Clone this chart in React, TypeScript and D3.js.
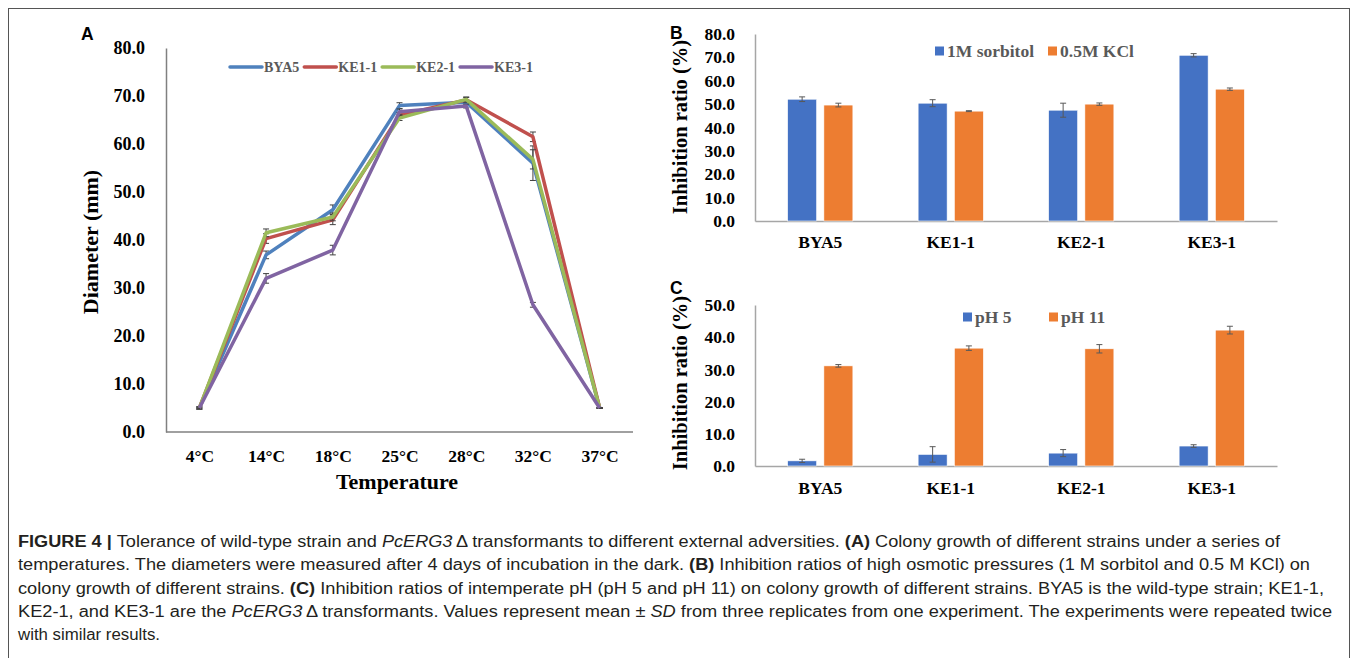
import React, { useEffect, useRef } from 'react';
import * as d3 from 'd3';

// Panel A: colony diameter (mm) by temperature
const temps = ['4°C', '14°C', '18°C', '25°C', '28°C', '32°C', '37°C'];
const strains = ['BYA5', 'KE1-1', 'KE2-1', 'KE3-1'];
const diamBYA5 = [5.0, 36.9, 46.3, 68.0, 68.7, 56.0, 5.0];
const diamKE11 = [5.0, 40.3, 44.2, 66.0, 69.2, 61.5, 5.0];
const diamKE21 = [5.0, 41.5, 44.8, 65.4, 69.3, 56.8, 5.0];
const diamKE31 = [5.0, 32.0, 37.9, 66.7, 67.9, 26.5, 5.0];
const sdBYA5 = [0.2, 0.8, 1.0, 0.6, 0.4, 3.6, 0.1];
const sdKE11 = [0.2, 1.0, 1.0, 0.5, 0.5, 1.0, 0.1];
const sdKE21 = [0.2, 0.8, 0.8, 0.5, 0.5, 2.0, 0.1];
const sdKE31 = [0.2, 1.0, 1.0, 0.6, 0.4, 0.5, 0.1];
const lineColors = ['#4F81BD', '#C0504D', '#9BBB59', '#8064A2'];

// Panel B: osmotic stress
const osmSeries = ['1M sorbitol', '0.5M KCl'];
const sorbitol = [52.1, 50.4, 47.4, 70.9];
const sorbitolSd = [1.0, 1.5, 3.0, 0.7];
const kcl = [49.6, 47.0, 50.0, 56.4];
const kclSd = [0.8, 0.2, 0.5, 0.5];

// Panel C: pH stress
const phSeries = ['pH 5', 'pH 11'];
const ph5 = [1.6, 3.6, 4.0, 6.2];
const ph5Sd = [0.5, 2.4, 1.1, 0.4];
const ph11 = [31.1, 36.6, 36.4, 42.2];
const ph11Sd = [0.4, 0.7, 1.3, 1.2];

const barColors = ['#4472C4', '#ED7D31'];

const serif = '"Liberation Serif", "Times New Roman", serif';
const sans = '"Liberation Sans", Arial, sans-serif';

function App() {
  const svgRef = useRef(null);

  useEffect(() => {
    const svg = d3.select(svgRef.current);
    svg.selectAll('*').remove();

    // outer frame
    svg.append('rect')
      .attr('x', 8.5).attr('y', 8.5)
      .attr('width', 1341).attr('height', 700)
      .attr('fill', 'none').attr('stroke', '#555').attr('stroke-width', 1);

    // ---------- Panel A ----------
    const xA = d3.scalePoint().domain(temps).range([166, 633]).padding(0.5);
    const yA = d3.scaleLinear().domain([0, 80]).range([432, 48]);

    const axA = svg.append('g').attr('transform', 'translate(166,0)')
      .call(d3.axisLeft(yA).tickValues(d3.range(0, 81, 10)).tickFormat(d3.format('.1f'))
        .tickSize(0).tickPadding(21));
    const axAx = svg.append('g').attr('transform', 'translate(0,432)')
      .call(d3.axisBottom(xA).tickSize(0).tickSizeOuter(0).tickPadding(18));
    // stretch x domain line to full band range
    axAx.select('.domain').attr('d', 'M166,0H633');
    [axA, axAx].forEach(g => {
      g.select('.domain').attr('stroke', '#808080').attr('stroke-width', 1.5);
      g.selectAll('text').attr('font-family', serif).attr('font-weight', 'bold')
        .attr('font-size', 18).attr('fill', '#000');
    });
    axAx.selectAll('text').attr('font-size', 17.5);

    svg.append('text').attr('x', 397).attr('y', 489).attr('text-anchor', 'middle')
      .attr('font-family', serif).attr('font-weight', 'bold').attr('font-size', 22)
      .text('Temperature');
    svg.append('text').attr('transform', 'translate(98,242) rotate(-90)')
      .attr('text-anchor', 'middle')
      .attr('font-family', serif).attr('font-weight', 'bold').attr('font-size', 22)
      .text('Diameter (mm)');

    const diam = [diamBYA5, diamKE11, diamKE21, diamKE31];
    const sds = [sdBYA5, sdKE11, sdKE21, sdKE31];
    const line = d3.line<number>().x((d, i) => xA(temps[i])).y(d => yA(d));

    diam.forEach((vals, s) => {
      const eg = svg.append('g').attr('stroke', '#404040').attr('stroke-width', 1);
      vals.forEach((v, i) => {
        const x = xA(temps[i]);
        const y0 = yA(v - sds[s][i]);
        const y1 = yA(v + sds[s][i]);
        eg.append('line').attr('x1', x).attr('x2', x).attr('y1', y0).attr('y2', y1);
        eg.append('line').attr('x1', x - 3).attr('x2', x + 3).attr('y1', y0).attr('y2', y0);
        eg.append('line').attr('x1', x - 3).attr('x2', x + 3).attr('y1', y1).attr('y2', y1);
      });
      svg.append('path').datum(vals)
        .attr('d', line)
        .attr('fill', 'none')
        .attr('stroke', lineColors[s])
        .attr('stroke-width', 3.5)
        .attr('stroke-linejoin', 'round');
    });

    // legend A
    let lx = 230;
    strains.forEach((name, s) => {
      svg.append('line').attr('x1', lx).attr('x2', lx + 32).attr('y1', 67).attr('y2', 67)
        .attr('stroke', lineColors[s]).attr('stroke-width', 3.5).attr('stroke-linecap', 'round');
      const t = svg.append('text').attr('x', lx + 34).attr('y', 72)
        .attr('font-family', serif).attr('font-weight', 'bold').attr('font-size', 14)
        .attr('fill', '#595959').text(name);
      const w = (t.node() as SVGTextElement).getComputedTextLength();
      lx += 34 + w + 5;
    });

    // ---------- Bar panels B & C ----------
    const barPanel = (opts) => {
      const { y0, y1, max, step, a, aSd, b, bSd, series, legendY, legendX, label, labelY, titleY, xPad } = opts;
      const xB = d3.scaleBand().domain(strains).range([755, 1277]).paddingInner(0.5).paddingOuter(0.25);
      const sub = d3.scaleBand().domain(series).range([0, xB.bandwidth()]).paddingInner(0.2);
      const y = d3.scaleLinear().domain([0, max]).range([y0, y1]);

      const gy = svg.append('g').attr('transform', 'translate(755,0)')
        .call(d3.axisLeft(y).tickValues(d3.range(0, max + 0.1, step)).tickFormat(d3.format('.1f'))
          .tickSize(0).tickSizeOuter(0).tickPadding(20));
      const gx = svg.append('g').attr('transform', `translate(0,${y0})`)
        .call(d3.axisBottom(xB).tickSize(0).tickSizeOuter(0).tickPadding(xPad));
      [gy, gx].forEach(g => {
        g.select('.domain').attr('stroke', '#A6A6A6').attr('stroke-width', 1.5);
        g.selectAll('text').attr('font-family', serif).attr('font-weight', 'bold')
          .attr('font-size', 17.5).attr('fill', '#000');
      });

      const vals = [a, b];
      const sdv = [aSd, bSd];
      series.forEach((name, k) => {
        strains.forEach((st, i) => {
          const x = xB(st) + sub(name);
          svg.append('rect')
            .attr('x', x).attr('y', y(vals[k][i]))
            .attr('width', sub.bandwidth()).attr('height', y0 - y(vals[k][i]))
            .attr('fill', barColors[k]).attr('stroke', '#fff').attr('stroke-width', 0.6);
        });
      });
      series.forEach((name, k) => {
        strains.forEach((st, i) => {
          const cx = xB(st) + sub(name) + sub.bandwidth() / 2;
          const e0 = y(vals[k][i] - sdv[k][i]);
          const e1 = y(vals[k][i] + sdv[k][i]);
          const eg = svg.append('g').attr('stroke', '#595959').attr('stroke-width', 1);
          eg.append('line').attr('x1', cx).attr('x2', cx).attr('y1', e0).attr('y2', e1);
          eg.append('line').attr('x1', cx - 3).attr('x2', cx + 3).attr('y1', e0).attr('y2', e0);
          eg.append('line').attr('x1', cx - 3).attr('x2', cx + 3).attr('y1', e1).attr('y2', e1);
        });
      });

      // legend
      series.forEach((name, k) => {
        svg.append('rect').attr('x', legendX[k]).attr('y', legendY - 4.5)
          .attr('width', 9).attr('height', 9).attr('fill', barColors[k]);
        svg.append('text').attr('x', legendX[k] + 12).attr('y', legendY + 6)
          .attr('font-family', serif).attr('font-weight', 'bold').attr('font-size', 17.5)
          .attr('fill', '#595959').text(name);
      });

      svg.append('text').attr('transform', `translate(687,${titleY}) rotate(-90)`)
        .attr('text-anchor', 'middle')
        .attr('font-family', serif).attr('font-weight', 'bold').attr('font-size', 20.5)
        .text('Inhibition ratio (%)');
      svg.append('text').attr('x', 670).attr('y', labelY)
        .attr('font-family', sans).attr('font-weight', 'bold').attr('font-size', 17.5)
        .text(label);
    };

    barPanel({
      y0: 221, y1: 34, max: 80, step: 10, a: sorbitol, aSd: sorbitolSd, b: kcl, bSd: kclSd,
      series: osmSeries, legendY: 51, legendX: [935, 1048], label: 'B', labelY: 39, titleY: 127, xPad: 15
    });
    barPanel({
      y0: 466, y1: 305, max: 50, step: 10, a: ph5, aSd: ph5Sd, b: ph11, bSd: ph11Sd,
      series: phSeries, legendY: 317, legendX: [963, 1049], label: 'C', labelY: 294, titleY: 383, xPad: 16
    });

    svg.append('text').attr('x', 81).attr('y', 40)
      .attr('font-family', sans).attr('font-weight', 'bold').attr('font-size', 17.5)
      .text('A');

    // ---------- caption ----------
    const capLines = [
      { len: 1262, parts: [['FIGURE 4 | ', 'b'], ['Tolerance of wild-type strain and ', ''], ['PcERG3', 'i'], ['\u2009Δ transformants to different external adversities. ', ''], ['(A)', 'b'], [' Colony growth of different strains under a series of', '']] },
      { len: 1292, parts: [['temperatures. The diameters were measured after 4 days of incubation in the dark. ', ''], ['(B)', 'b'], [' Inhibition ratios of high osmotic pressures (1 M sorbitol and 0.5 M KCl) on', '']] },
      { len: 1306, parts: [['colony growth of different strains. ', ''], ['(C)', 'b'], [' Inhibition ratios of intemperate pH (pH 5 and pH 11) on colony growth of different strains. BYA5 is the wild-type strain; KE1-1,', '']] },
      { len: 1314, parts: [['KE2-1, and KE3-1 are the ', ''], ['PcERG3', 'i'], ['\u2009Δ transformants. Values represent mean ± ', ''], ['SD', 'i'], [' from three replicates from one experiment. The experiments were repeated twice', '']] },
      { len: 142, parts: [['with similar results.', '']] },
    ];
    capLines.forEach((ln, i) => {
      const t = svg.append('text').attr('x', 18).attr('y', 547 + i * 23.3)
        .attr('font-family', '"Liberation Sans Narrow", "Arial Narrow", ' + sans)
        .attr('font-size', 16).attr('fill', '#231F20');
      if (ln.len) t.attr('textLength', ln.len).attr('lengthAdjust', 'spacingAndGlyphs');
      ln.parts.forEach(([txt, st]) => {
        const sp = t.append('tspan').text(txt);
        if (st === 'b') sp.attr('font-weight', 'bold');
        if (st === 'i') sp.attr('font-style', 'italic');
      });
    });
  }, []);

  return (
    <svg ref={svgRef} width={1357} height={658}
      style={{ position: 'absolute', left: 0, top: 0, display: 'block', background: '#fff' }} />
  );
}

export default App;
